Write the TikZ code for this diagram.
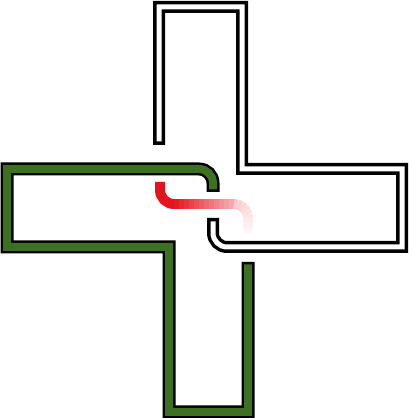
\documentclass[tikz,border=0pt]{standalone}
\definecolor{dgreen}{RGB}{62,112,34}
\definecolor{tred}{RGB}{228,20,30}
\tikzset{
  whitepipe/.style={draw=black, line width=12pt, line cap=butt, line join=miter,
    postaction={draw=white, line width=5pt, shorten <=3.5pt, shorten >=3.5pt}},
  greenpipe/.style={draw=black, line width=13pt, line cap=butt, line join=miter,
    postaction={draw=dgreen, line width=8pt, shorten <=2.5pt, shorten >=2.5pt}},
  redpipe/.style={line width=10pt, line cap=butt}
}
\begin{document}
\begin{tikzpicture}[x=1pt,y=1pt]
\useasboundingbox (0,0) rectangle (409,418);
% white pipe
\draw[whitepipe] (159,273) -- (159,411) -- (242,411) -- (242,249) -- (402,249)
  -- (402,171) -- (227,171) arc[start angle=270, end angle=180, radius=14pt] -- (213,200);
% green pipe
\draw[greenpipe] (213,226) -- (213,235) arc[start angle=0, end angle=90, radius=14pt]
  -- (7,249) -- (7,171) -- (169,171) -- (169,6) -- (248,6) -- (248,156);
% red fading pipe
\draw[redpipe, tred] (160,236) -- (160,228) arc[start angle=180, end angle=270, radius=14pt] -- (174.5,214);
\foreach \i in {0,...,11}{
  \pgfmathsetmacro\xa{174+5*\i}
  \pgfmathsetmacro\xb{\xa+5.6}
  \pgfmathsetmacro\p{100-(\xa+2.5-174)/70*78}
  \draw[redpipe, tred!\p!white] (\xa,214) -- (\xb,214);
}
\foreach \a in {0,...,5}{
  \pgfmathsetmacro\sa{90-15*\a}
  \pgfmathsetmacro\xs{234+14*cos(\sa)}
  \pgfmathsetmacro\ys{200+14*sin(\sa)}
  \pgfmathsetmacro\p{22-2.2*\a}
  \draw[redpipe, tred!\p!white] (\xs,\ys) arc[start angle=\sa, end angle=\sa-16, radius=14pt];
}
\foreach \i in {0,...,4}{
  \pgfmathsetmacro\ya{200-4*\i}
  \pgfmathsetmacro\yb{\ya-4.5}
  \pgfmathsetmacro\p{9-2*\i}
  \draw[redpipe, tred!\p!white] (248,\ya) -- (248,\yb);
}
\end{tikzpicture}
\end{document}
